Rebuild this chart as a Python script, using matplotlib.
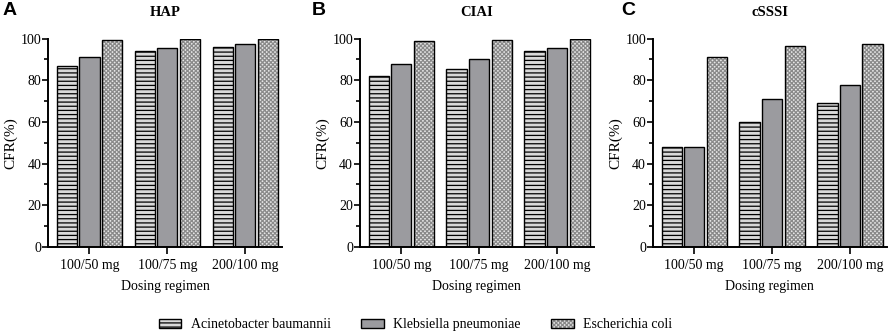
import matplotlib
matplotlib.use("Agg")
import matplotlib.pyplot as plt
import numpy as np
from matplotlib.patches import Patch
from matplotlib.legend_handler import HandlerTuple
from matplotlib.ticker import MultipleLocator

regimens = ["100/50 mg", "100/75 mg", "200/100 mg"]
species = ["Acinetobacter baumannii", "Klebsiella pneumoniae", "Escherichia coli"]
panels = ["A", "B", "C"]
titles = ["HAP", "CIAI", "cSSSI"]

hap_ab = [87.0, 94.2, 96.2]
hap_kp = [91.4, 95.7, 97.2]
hap_ec = [99.5, 99.8, 99.8]
ciai_ab = [81.9, 85.6, 93.9]
ciai_kp = [87.8, 90.2, 95.5]
ciai_ec = [98.9, 99.3, 99.7]
csssi_ab = [47.8, 59.8, 68.9]
csssi_kp = [48.2, 70.8, 77.8]
csssi_ec = [91.2, 96.4, 97.5]

data = [[hap_ab, hap_kp, hap_ec],
        [ciai_ab, ciai_kp, ciai_ec],
        [csssi_ab, csssi_kp, csssi_ec]]

plt.rcParams["font.family"] = ["Liberation Serif", "DejaVu Serif"]
plt.rcParams["hatch.linewidth"] = 0.9

fig = plt.figure(figsize=(8.92, 3.36), dpi=100)
lefts = [0.054, 0.4036, 0.732]
letter_x = [0.003, 0.35, 0.697]
width = 0.262
bottom, top = 0.265, 0.885
x = np.arange(len(regimens))
bw, off = 0.26, 0.29

for i in range(3):
    ax = fig.add_axes([lefts[i], bottom, width, top - bottom])
    ab, kp, ec = data[i]
    ax.bar(x - off, ab, bw, facecolor="#d9d9d9", edgecolor="black", hatch="----", linewidth=1)
    ax.bar(x, kp, bw, facecolor="#9b9b9f", edgecolor="black", linewidth=1)
    ax.bar(x + off, ec, bw, facecolor="#e6e6e6", edgecolor="#8a8a8a", hatch="xxxxxxxx", linewidth=0)
    ax.bar(x + off, ec, bw, fill=False, edgecolor="black", linewidth=1)
    ax.set_xlim(-0.53, 2.47)
    ax.set_ylim(0, 100)
    ax.yaxis.set_major_locator(MultipleLocator(20))
    ax.yaxis.set_minor_locator(MultipleLocator(10))
    ax.set_xticks(x)
    ax.set_xticklabels(regimens, fontsize=10)
    ax.tick_params(axis="y", labelsize=10, width=1.2, length=4, pad=1)
    ax.tick_params(axis="y", which="minor", width=1.2, length=3)
    ax.tick_params(axis="x", width=1.2, length=5)
    for s in ["top", "right"]:
        ax.spines[s].set_visible(False)
    for s in ["left", "bottom"]:
        ax.spines[s].set_linewidth(1.4)
    ax.set_ylabel("CFR(%)", fontsize=11, labelpad=2)
    ax.set_xlabel("Dosing regimen", fontsize=10, labelpad=6)
    ax.set_title(titles[i], fontsize=10.5, fontweight="bold", pad=16)
    fig.text(letter_x[i], 0.995, panels[i], fontsize=14, fontweight="bold",
             family="Liberation Sans", va="top", ha="left")

h_ab = Patch(facecolor="#d9d9d9", edgecolor="black", hatch="----", linewidth=1)
h_kp = Patch(facecolor="#9b9b9f", edgecolor="black", linewidth=1)
h_ec = (Patch(facecolor="#e6e6e6", edgecolor="#8a8a8a", hatch="xxxxxxxx", linewidth=0),
        Patch(fill=False, edgecolor="black", linewidth=1))
fig.legend([h_ab, h_kp, h_ec], species, loc="center", bbox_to_anchor=(0.466, 0.033),
           ncol=3, frameon=False, fontsize=10, columnspacing=2.2, handlelength=1.6,
           handletextpad=0.7, handler_map={tuple: HandlerTuple(ndivide=1)})

fig.savefig("out.png", dpi=100)
